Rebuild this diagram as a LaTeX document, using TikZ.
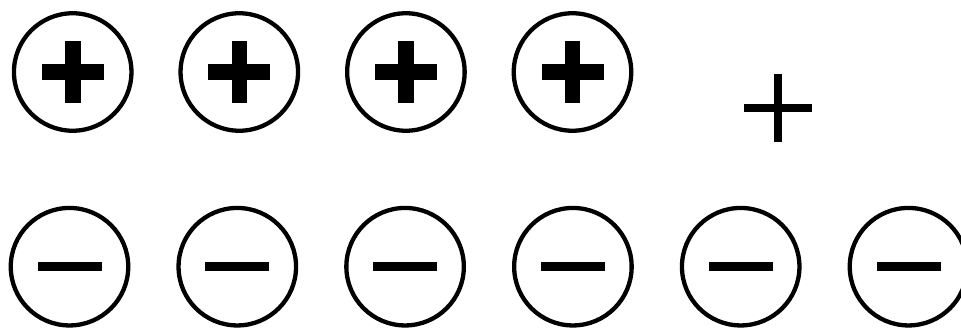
\documentclass[tikz,border=0pt]{standalone}
\begin{document}
\begin{tikzpicture}[x=1pt,y=-1pt,
    charge/.style={circle, draw, line width=4.3pt, minimum size=117.5pt, inner sep=0pt}]
  \useasboundingbox (0,0) rectangle (961,328);
  \foreach \i in {1,...,4} {
    \node[charge] (pos\i) at ({72.7+166.6*(\i-1)},72) {};
    \fill ([shift={(-31,-8)}]pos\i.center) rectangle ([shift={(31,8)}]pos\i.center);
    \fill ([shift={(-7.8,-31)}]pos\i.center) rectangle ([shift={(7.8,31)}]pos\i.center);
  }
  \coordinate (sum) at (778,108.3);
  \fill ([shift={(-34,-4)}]sum) rectangle ([shift={(34,4)}]sum);
  \fill ([shift={(-4.2,-34)}]sum) rectangle ([shift={(4.2,34)}]sum);
  \foreach \i in {1,...,6} {
    \node[charge] (neg\i) at ({69.5+167.8*(\i-1)},266.7) {};
    \fill ([shift={(-32,-4.5)}]neg\i.center) rectangle ([shift={(32,4.5)}]neg\i.center);
  }
\end{tikzpicture}
\end{document}
